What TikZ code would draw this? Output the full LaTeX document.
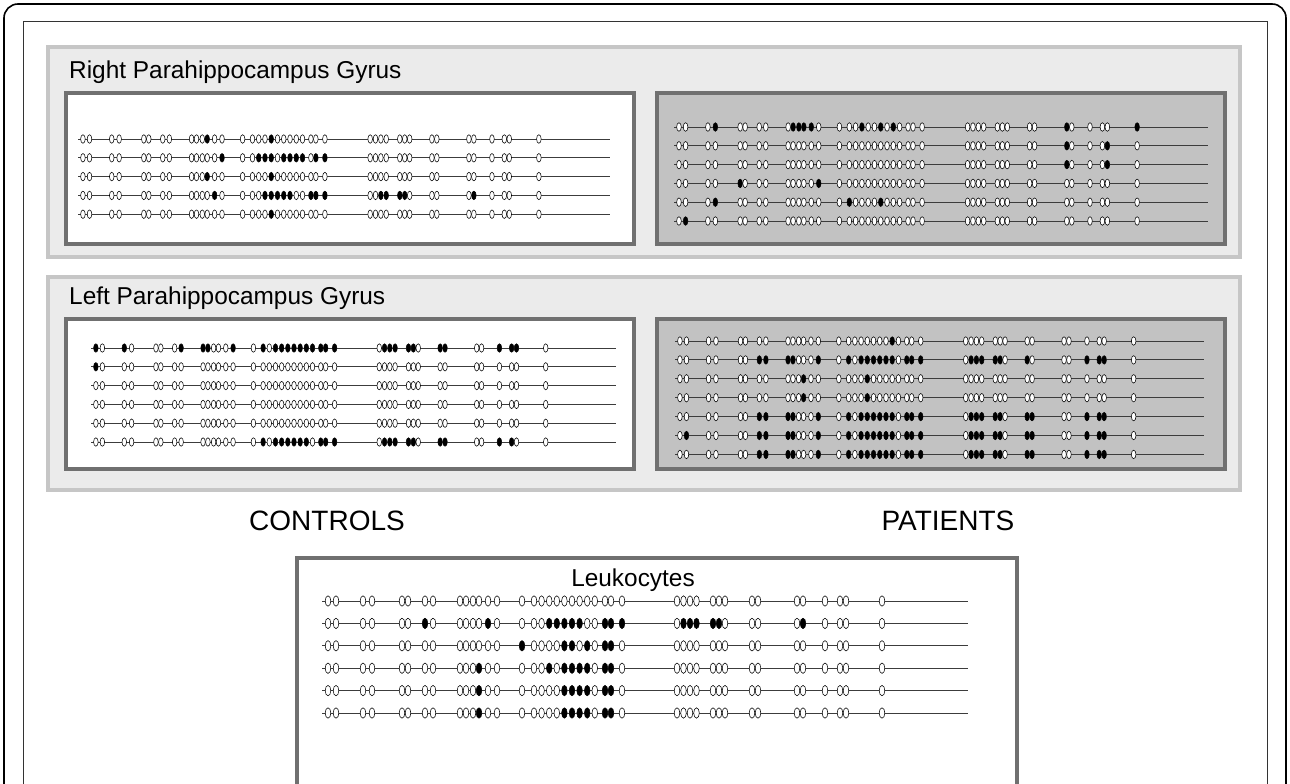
\documentclass[tikz,border=0pt]{standalone}
\usepackage{fontspec}
\setmainfont{Liberation Sans}
\definecolor{panelfill}{RGB}{235,235,235}
\definecolor{paneledge}{RGB}{198,198,198}
\definecolor{boxedge}{RGB}{112,112,112}
\definecolor{patfill}{RGB}{194,194,194}
\definecolor{rowgray}{RGB}{60,60,60}
% CpG positions along one row (in px of the leukocyte row)
\def\cpgarr{{6,14,41,50,80,86,103,111,138,144,151,157,166,175,200,212,219.6,227.2,234.8,242.4,250,257.6,265.2,272.8,283,289,300,355,361.5,368,374.5,391,397,403,430,436,475,481,503,518,524,560}}
% #1 x start, #2 y, #3 x scale, #4 methylated sites (0 = none)
\newcommand\cpgrow[4]{%
  \draw[cpgline] (#1,#2) -- ++(646*#3,0);
  \foreach \k in {1,...,42}{%
    \pgfmathsetmacro\q{#1+#3*\cpgarr[int(\k-1)]}%
    \draw[cpgopen] (\q,#2) ellipse[x radius=2.8*#3,y radius=5.2*#3];}%
  \foreach \k in {#4}{%
    \ifnum\k>0
      \pgfmathsetmacro\q{#1+#3*\cpgarr[int(\k-1)]}%
      \fill[cpgfull] (\q,#2) ellipse[x radius=2.8*#3,y radius=5.2*#3];
    \fi}%
}
\begin{document}
\begin{tikzpicture}
  [x=1pt,y=-1pt,
   cpgline/.style={rowgray,line width=0.9pt},
   cpgopen/.style={draw=black,fill=white,line width=0.55pt},
   cpgfull/.style={fill=black},
   regionpanel/.style={fill=panelfill,draw=paneledge,line width=4pt},
   ctrlbox/.style={fill=white,draw=boxedge,line width=4pt},
   patbox/.style={fill=patfill,draw=boxedge,line width=4pt},
   paneltitle/.style={anchor=west,inner sep=0pt,font=\fontsize{24.4}{28}\selectfont},
   grouptitle/.style={inner sep=0pt,font=\fontsize{28}{32}\selectfont}]
  \clip (0,0) rectangle (1290,784);
  \fill[white] (0,0) rectangle (1290,784);

  % frames
  \draw[black,line width=1.6pt,rounded corners=14pt] (4,4) rectangle (1286,810);
  \draw[black!80,line width=1pt] (23,22) rectangle (1267,810);

  % right parahippocampus gyrus
  \draw[regionpanel] (48,47) rectangle (1240,257);
  \node[paneltitle] (rtitle) at (69,72) {Right Parahippocampus Gyrus};
  \draw[ctrlbox] (66,93) rectangle (634,244);
  \draw[patbox] (657,93) rectangle (1225,244);

  \cpgrow{78}{139}{0.823}{12,19}
  \cpgrow{78}{157.8}{0.823}{14,17,18,19,21,22,23,24,26,27}
  \cpgrow{78}{176.6}{0.823}{12,19}
  \cpgrow{78}{195.4}{0.823}{13,18,19,20,21,22,25,26,27,30,31,32,33,38}
  \cpgrow{78}{214.2}{0.823}{19}

  \cpgrow{674}{127}{0.827}{4,10,11,12,13,18,21,23,37,42}
  \cpgrow{674}{145.8}{0.827}{37,41}
  \cpgrow{674}{164.6}{0.827}{37,41}
  \cpgrow{674}{183.4}{0.827}{5,14}
  \cpgrow{674}{202.2}{0.827}{4,16,21}
  \cpgrow{674}{221}{0.827}{2}

  % left parahippocampus gyrus
  \draw[regionpanel] (48,277) rectangle (1240,490);
  \node[paneltitle] (ltitle) at (69,298) {Left Parahippocampus Gyrus};
  \draw[ctrlbox] (66,319) rectangle (634,469);
  \draw[patbox] (657,319) rectangle (1225,469);

  \cpgrow{91}{348}{0.812}{1,3,8,9,10,14,16,18,19,20,21,22,23,24,25,26,27,29,30,31,32,33,35,36,39,40,41}
  \cpgrow{91}{366.8}{0.812}{1}
  \cpgrow{91}{385.6}{0.812}{0}
  \cpgrow{91}{404.4}{0.812}{0}
  \cpgrow{91}{423.2}{0.812}{0}
  \cpgrow{91}{442}{0.812}{16,18,19,20,21,22,23,25,26,27,29,30,31,32,33,35,36,39,40}

  \cpgrow{675}{341}{0.819}{23}
  \cpgrow{675}{359.9}{0.819}{7,8,9,10,14,16,18,19,20,21,22,23,25,26,27,29,30,31,32,33,35,39,40,41}
  \cpgrow{675}{378.8}{0.819}{12,19}
  \cpgrow{675}{397.7}{0.819}{12,19}
  \cpgrow{675}{416.6}{0.819}{7,8,9,10,14,16,18,19,20,21,22,23,25,26,27,29,30,31,32,33,35,36,39,40,41}
  \cpgrow{675}{435.5}{0.819}{2,7,8,9,10,14,16,18,19,20,21,22,23,25,26,27,29,30,31,32,33,35,36,39,40,41}
  \cpgrow{675}{454.4}{0.819}{7,8,9,10,14,16,18,19,20,21,22,23,25,26,27,29,30,31,32,33,35,36,39,40,41}

  \node[grouptitle] (controls) at (327,521) {CONTROLS};
  \node[grouptitle] (patients) at (948,521) {PATIENTS};

  % leukocytes
  \draw[ctrlbox] (297,558) rectangle (1017,810);
  \node[paneltitle,anchor=center] (ktitle) at (633,580) {Leukocytes};

  \cpgrow{322}{601}{1}{0}
  \cpgrow{322}{623.4}{1}{7,13,18,19,20,21,22,25,26,27,29,30,31,32,33,38}
  \cpgrow{322}{645.8}{1}{15,20,21,23,25,26}
  \cpgrow{322}{668.2}{1}{12,18,20,21,22,23,25,26}
  \cpgrow{322}{690.6}{1}{12,20,21,22,23,25,26}
  \cpgrow{322}{713}{1}{12,20,21,22,23,25,26}
\end{tikzpicture}
\end{document}
